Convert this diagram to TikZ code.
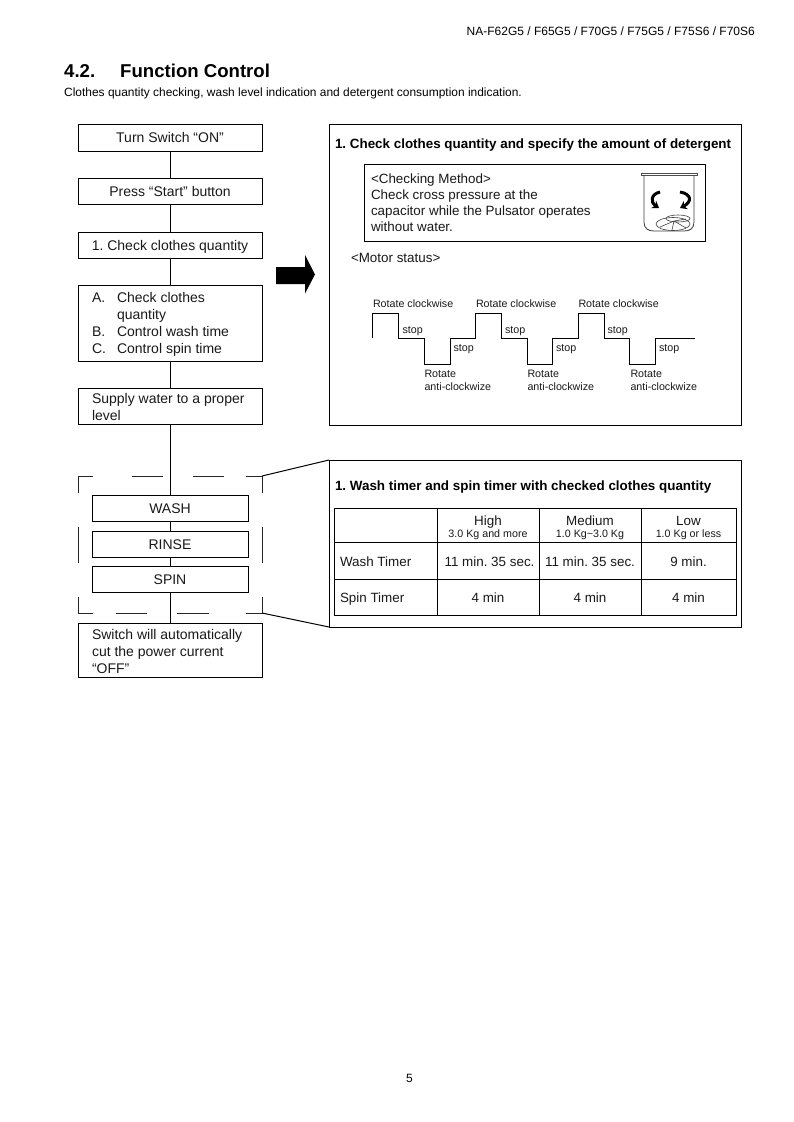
\documentclass[tikz,border=0pt]{standalone}
\usepackage{fontspec}
\setmainfont{Liberation Sans}
\usetikzlibrary{arrows.meta}
\AtBeginDocument{\frenchspacing}
\newcommand{\fs}[1]{\fontsize{#1}{#1}\selectfont}
\tikzset{
  x=1pt,y=-1pt,
  ln/.style={line width=1pt,draw=black},
  cbox/.style={ln,fill=white,inner sep=0pt,outer sep=0pt,minimum width=184pt,align=center},
  pbox/.style={cbox,minimum width=156pt,minimum height=26.5pt},
  tx/.style={inner sep=0pt,outer sep=0pt,font=\fs{14},text=black!90,text height=13.3pt,text depth=2.9pt},
  tr/.style={tx,font=\fs{13.4}},
  xs/.style={inner sep=0pt,outer sep=0pt,font=\fs{10.7},text=black!90,text height=10.8pt,text depth=2.2pt},
  hd/.style={inner sep=0pt,outer sep=0pt,font=\bfseries\fs{13.4},text=black,text height=12.7pt,text depth=2.9pt},
  dsh/.style={line width=1pt,draw=black!85},
  wave/.style={line width=1pt,draw=black},
}
\begin{document}
\begin{tikzpicture}
\useasboundingbox (0,0) rectangle (793,1122);
\fill[white] (0,0) rectangle (793,1122);
% header
\node[anchor=east,inner sep=0pt,font=\fs{12}] (hdr) at (755,31.5) {NA-F62G5 / F65G5 / F70G5 / F75G5 / F75S6 / F70S6};
\node[anchor=west,inner sep=0pt,font=\bfseries\fs{18.6}] (secn) at (64,71) {4.2.};
\node[anchor=west,inner sep=0pt,font=\bfseries\fs{18.6}] (sect) at (120,71) {Function Control};
\node[anchor=west,inner sep=0pt,font=\fs{11.95}] (sub) at (64,93.5) {Clothes quantity checking, wash level indication and detergent consumption indication.};
\node[anchor=center,inner sep=0pt,font=\fs{12}] (pg) at (409.5,1078.5) {5};
% flow nodes
\node[cbox,minimum height=27pt,anchor=north west,tx] (n1) at (78,124) {Turn Switch “ON”};
\node[cbox,minimum height=26.5pt,anchor=north west,tx] (n2) at (78,178) {Press “Start” button};
\node[cbox,minimum height=26.5pt,anchor=north west,tx] (n3) at (78,232) {1. Check clothes quantity};
\node[cbox,minimum height=76pt,anchor=north west] (n4) at (78,285) {};
\node[tx,anchor=west] at (92,297.5) {A.};
\node[tx,anchor=west] at (117,297.5) {Check clothes};
\node[tx,anchor=west] at (117,314.5) {quantity};
\node[tx,anchor=west] at (92,331.5) {B.};
\node[tx,anchor=west] at (117,331.5) {Control wash time};
\node[tx,anchor=west] at (92,348.5) {C.};
\node[tx,anchor=west] at (117,348.5) {Control spin time};
\node[cbox,minimum height=36pt,anchor=north west] (n5) at (78,388) {};
\node[tx,anchor=west] at (92,398.5) {Supply water to a proper};
\node[tx,anchor=west] at (92,415) {level};
\node[pbox,anchor=north west,tx] (w) at (92,495.3) {WASH};
\node[pbox,anchor=north west,tx] (r) at (92,531) {RINSE};
\node[pbox,anchor=north west,tx] (s) at (92,566) {SPIN};
\node[cbox,minimum height=54pt,anchor=north west] (n6) at (78,623) {};
\node[tx,anchor=west] at (92,634.5) {Switch will automatically};
\node[tx,anchor=west] at (92,651.5) {cut the power current};
\node[tx,anchor=west] at (92,668.5) {“OFF”};
% connectors
\foreach \a/\b in {n1/n2,n2/n3,n3/n4,n4/n5,n5/w,w/r,r/s,s/n6}{\draw[ln] (\a.south) -- (\b.north);}
% dashed frame pieces
\draw[dsh] (93,476) -- (78,476) -- (78,493)
 (132,476) -- (163,476) (193,476) -- (224,476) (246,476) -- (262,476) -- (262,493)
 (78,527) -- (78,563) (262,527) -- (262,563)
 (78,597) -- (78,613) -- (93,613) (116,613) -- (147,613) (177,613) -- (209,613) (246,613) -- (262,613) -- (262,597);
% big arrow
\fill[black] (276,267) -- (305,267) -- (305,255) -- (315,274.5) -- (305,293.5) -- (305,284) -- (276,284) -- cycle;
% upper panel
\node[ln,minimum width=412pt,minimum height=301pt,anchor=north west,inner sep=0pt,outer sep=0pt] (p1) at (329,124) {};
\node[hd,anchor=west] (h1) at (335,144) {1. Check clothes quantity and specify the amount of detergent};
\node[ln,minimum width=341pt,minimum height=77pt,anchor=north west,inner sep=0pt,outer sep=0pt] (p2) at (364,164) {};
\node[tr,anchor=west] at (371,178) {<Checking Method>};
\node[tr,anchor=west] at (371,194) {Check cross pressure at the};
\node[tr,anchor=west] at (371,210) {capacitor while the Pulsator operates};
\node[tr,anchor=west] at (371,226) {without water.};
\node[tr,anchor=west] at (351,257) {<Motor status>};
% tub icon
\draw[line width=.7pt,black!70] (641.7,173) rectangle (697,175.5);
\draw[line width=.8pt,black!75] (644,175.5) -- (644,222) .. controls (644,228.5) and (648,231) .. (654,231) -- (684,231) .. controls (690,231) and (694,228.5) .. (694,222) -- (694,175.5);
\draw[line width=3pt,-{Stealth[length=6.5pt,width=9pt]}] (660,192) .. controls (651,194) and (650,202) .. (659,208);
\draw[line width=3pt,-{Stealth[length=6.5pt,width=9pt]}] (680,192) .. controls (692,194) and (692,202) .. (680,208);
\draw[line width=.6pt,black!75] (673,224) ellipse (17pt and 6.5pt);
\draw[line width=.6pt,black!75] (678,218.5) ellipse (12pt and 3.5pt);
\draw[line width=.6pt,black!75] (660,227) -- (674,221) -- (686,228) (674,221) -- (672,230) (674,221) -- (686,219);
% wave
\draw[wave] (372.7,338) -- (372.7,313) -- (398.7,313) -- (398.7,338.3) -- (424.3,338.3) -- (424.3,364) -- (450,364) -- (450,338.3) -- (475.7,338.3) -- (475.7,313) -- (501.3,313) -- (501.3,338.3) -- (527,338.3) -- (527,364) -- (552.7,364) -- (552.7,338.3) -- (578.3,338.3) -- (578.3,313) -- (604,313) -- (604,338.3) -- (629.7,338.3) -- (629.7,364) -- (655.3,364) -- (655.3,338.3) -- (695,338.3);
\foreach \x in {373,476,578.5}{\node[xs,anchor=west] at (\x,303) {Rotate clockwise};}
\foreach \x in {402.5,505,607.5}{\node[xs,anchor=west] at (\x,329) {stop};}
\foreach \x in {453.5,556,659}{\node[xs,anchor=west] at (\x,347) {stop};}
\foreach \x in {424.5,527.5,630.5}{
  \node[xs,anchor=west] at (\x,373) {Rotate};
  \node[xs,anchor=west] at (\x,386) {anti-clockwize};}
% lower panel
\node[ln,minimum width=412pt,minimum height=167pt,anchor=north west,inner sep=0pt,outer sep=0pt] (p3) at (329,460) {};
\coordinate (zt) at (262,476); \coordinate (zb) at (262,613);
\draw[ln] (zt) -- (p3.north west);
\draw[ln] (zb) -- (p3.south west);
\node[hd,anchor=west] (h2) at (335,486) {1. Wash timer and spin timer with checked clothes quantity};
% table
\draw[ln] (334,508) rectangle (736,615);
\draw[ln] (437,508) -- (437,615) (539,508) -- (539,615) (641,508) -- (641,615);
\draw[ln] (334,542) -- (736,542) (334,579) -- (736,579);
\foreach \x/\a/\b in {488/High/3.0 Kg and more,590/Medium/1.0 Kg\textasciitilde3.0 Kg,688.5/Low/1.0 Kg or less}{
  \node[tr] at (\x,520) {\a};
  \node[xs] at (\x,533.5) {\b};}
\node[tr,anchor=west] at (340,561) {Wash Timer};
\node[tr,anchor=west] at (340,597.5) {Spin Timer};
\node[tr] at (489.5,561) {11 min. 35 sec.};
\node[tr] at (590,561) {11 min. 35 sec.};
\node[tr] at (688.5,561) {9 min.};
\node[tr] at (488,597.5) {4 min};
\node[tr] at (590,597.5) {4 min};
\node[tr] at (688.5,597.5) {4 min};
\end{tikzpicture}
\end{document}
